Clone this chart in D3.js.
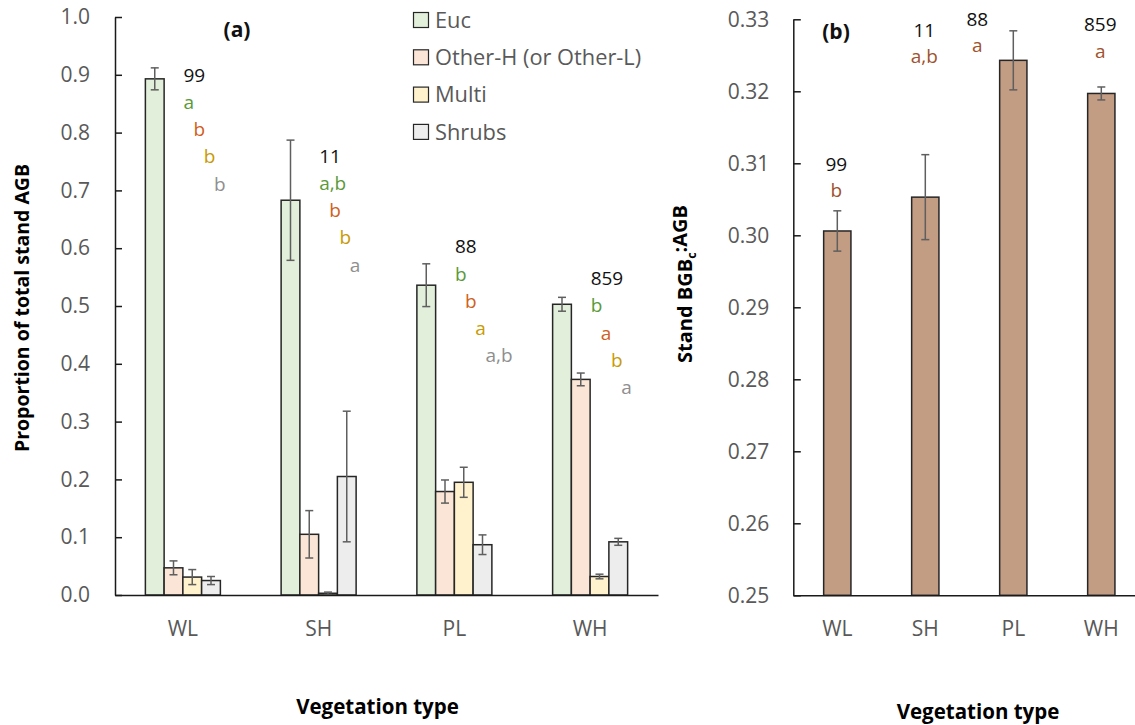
<!DOCTYPE html>
<html>
<head>
<meta charset="utf-8">
<script src="https://cdn.jsdelivr.net/npm/d3@7"></script>
<style>
  html, body { margin: 0; padding: 0; background: #fff; }
  svg { display: block; font-family: "Open Sans", "Liberation Sans", sans-serif; }
</style>
</head>
<body>
<svg id="chart" width="1135" height="725"></svg>
<script>
// ---- data -------------------------------------------------------------
const categories = ["WL", "SH", "PL", "WH"];
const seriesNames = ["Euc", "Other-H (or Other-L)", "Multi", "Shrubs"];
const plotCounts = ["99", "11", "88", "859"];

// (a) proportion of total stand AGB, mean and standard error
const eucMean   = [0.893, 0.683, 0.536, 0.503];
const eucSE     = [0.019, 0.104, 0.037, 0.012];
const otherMean = [0.047, 0.105, 0.179, 0.373];
const otherSE   = [0.012, 0.041, 0.020, 0.011];
const multiMean = [0.031, 0.003, 0.195, 0.032];
const multiSE   = [0.013, 0.002, 0.026, 0.004];
const shrubMean = [0.025, 0.205, 0.087, 0.092];
const shrubSE   = [0.007, 0.113, 0.017, 0.006];

// significance letters per component
const eucLetters   = ["a", "a,b", "b", "b"];
const otherLetters = ["b", "b", "b", "a"];
const multiLetters = ["b", "b", "a", "b"];
const shrubLetters = ["b", "a", "a,b", "a"];
// value at which each group's annotation block starts
const annotAtA = [0.888, 0.748, 0.591, 0.536];

// (b) stand BGBc:AGB ratio
const ratioMean = [0.3006, 0.3053, 0.3243, 0.3197];
const ratioSE   = [0.0028, 0.0059, 0.0041, 0.0009];
const ratioLetters = ["b", "a,b", "a", "a"];
const annotAtB = [0.3090, 0.3276, 0.3291, 0.3284];

const yTicksA = [0, 0.1, 0.2, 0.3, 0.4, 0.5, 0.6, 0.7, 0.8, 0.9, 1.0];
const yTicksB = [0.25, 0.26, 0.27, 0.28, 0.29, 0.30, 0.31, 0.32, 0.33];

// ---- styling ------------------------------------------------------------
const fills = ["#E2EFDA", "#FBE5D6", "#FFF2CC", "#EDEDED"];
const letterColors = ["#5A9A3A", "#D0601C", "#C99A06", "#8F8F8F"];
const ratioFill = "#C29C83";
const ratioLetterColor = "#A0522D";
const axisGrey = "#595959";
const barStroke = "#262626";
const errColor = "#5f5f5f";

const svg = d3.select("#chart");

const series = [
  { mean: eucMean,   se: eucSE,   letters: eucLetters },
  { mean: otherMean, se: otherSE, letters: otherLetters },
  { mean: multiMean, se: multiSE, letters: multiLetters },
  { mean: shrubMean, se: shrubSE, letters: shrubLetters }
];

function errorBar(g, cx, yTop, yBot, half) {
  g.append("line").attr("x1", cx).attr("x2", cx).attr("y1", yTop).attr("y2", yBot);
  g.append("line").attr("x1", cx - half).attr("x2", cx + half).attr("y1", yTop).attr("y2", yTop);
  g.append("line").attr("x1", cx - half).attr("x2", cx + half).attr("y1", yBot).attr("y2", yBot);
}

function styleYAxis(g) {
  g.select(".domain").attr("stroke", "#1a1a1a").attr("stroke-width", 1.5);
  g.selectAll(".tick line").attr("stroke", "#1a1a1a").attr("stroke-width", 1.5);
  g.selectAll(".tick text").attr("fill", axisGrey).style("font-size", "21px")
    .style("font-family", "'Open Sans', sans-serif");
}

function styleXAxis(g) {
  g.select(".domain").attr("stroke", "#1a1a1a").attr("stroke-width", 1.5);
  g.selectAll(".tick line").remove();
  g.selectAll(".tick text").attr("fill", axisGrey).style("font-size", "21px")
    .style("font-family", "'Open Sans', sans-serif");
}

// ---- panel (a) ------------------------------------------------------------
{
  const left = 115, right = 658, top = 17, bottom = 595;
  const y = d3.scaleLinear().domain([0, 1]).range([bottom, top]);
  const x = d3.scaleBand().domain(categories).range([left, right]).padding(0);
  const groupWidth = 75;
  const x1 = d3.scaleBand().domain(d3.range(seriesNames.length))
    .range([-groupWidth / 2, groupWidth / 2]).padding(0);

  const gA = svg.append("g");

  // bars
  series.forEach((s, si) => {
    gA.append("g").selectAll("rect").data(categories).join("rect")
      .attr("x", (c) => x(c) + x.bandwidth() / 2 + x1(si))
      .attr("y", (c, i) => y(s.mean[i]))
      .attr("width", x1.bandwidth())
      .attr("height", (c, i) => y(0) - y(s.mean[i]))
      .attr("fill", fills[si])
      .attr("stroke", barStroke)
      .attr("stroke-width", 1.5);
  });

  // error bars
  const eg = gA.append("g").attr("stroke", errColor).attr("stroke-width", 1.5);
  series.forEach((s, si) => {
    categories.forEach((c, i) => {
      const cx = x(c) + x.bandwidth() / 2 + x1(si) + x1.bandwidth() / 2;
      errorBar(eg, cx, y(s.mean[i] + s.se[i]), y(Math.max(0, s.mean[i] - s.se[i])), 4);
    });
  });

  // axes
  gA.append("g").attr("transform", `translate(${left},0)`)
    .call(d3.axisLeft(y).tickValues(yTicksA).tickFormat(d3.format(".1f"))
      .tickSizeInner(-7).tickSizeOuter(0).tickPadding(25))
    .call(styleYAxis);
  gA.append("g").attr("transform", `translate(0,${bottom})`)
    .call(d3.axisBottom(x).tickSize(0).tickPadding(26))
    .call(styleXAxis);

  // plot counts and significance letters
  const ann = gA.append("g").style("font-size", "19px");
  categories.forEach((c, i) => {
    const x0 = x(c) + x.bandwidth() / 2 + 0.5;
    const base = y(annotAtA[i]);
    ann.append("text").attr("x", x0).attr("y", base).attr("fill", "#111").text(plotCounts[i]);
    series.forEach((s, si) => {
      ann.append("text")
        .attr("x", x0 + 10.2 * si)
        .attr("y", base + 27.25 * (si + 1))
        .attr("fill", letterColors[si])
        .text(s.letters[i]);
    });
  });

  // panel tag
  gA.append("text").attr("x", 237).attr("y", 37).attr("text-anchor", "middle")
    .style("font-size", "21px").style("font-weight", "bold").attr("fill", "#111").text("(a)");

  // legend
  const lg = gA.append("g");
  seriesNames.forEach((name, si) => {
    const cy = 20 + 37.3 * si;
    lg.append("rect").attr("x", 413.5).attr("y", cy - 7.5).attr("width", 15).attr("height", 15)
      .attr("fill", fills[si]).attr("stroke", barStroke).attr("stroke-width", 1.2);
    lg.append("text").attr("x", 435).attr("y", cy).attr("dy", "0.36em")
      .style("font-size", "21.8px").attr("fill", axisGrey).text(name);
  });

  // axis titles
  gA.append("text").attr("transform", "translate(29,308) rotate(-90)")
    .attr("text-anchor", "middle").style("font-size", "19.5px").style("font-weight", "bold")
    .attr("fill", "#000").text("Proportion of total stand AGB");
  gA.append("text").attr("x", 377.5).attr("y", 714).attr("text-anchor", "middle")
    .style("font-size", "20.5px").style("font-weight", "bold").attr("fill", "#000")
    .text("Vegetation type");
}

// ---- panel (b) ------------------------------------------------------------
{
  const left = 793.3, right = 1145.3, top = 19.3, bottom = 595.3;
  const y = d3.scaleLinear().domain([0.25, 0.33]).range([bottom, top]);
  const x = d3.scaleBand().domain(categories).range([left, right]).padding(0);
  const barW = x.bandwidth() * 0.31;

  const gB = svg.append("g");

  gB.append("g").selectAll("rect").data(categories).join("rect")
    .attr("x", (c) => x(c) + x.bandwidth() / 2 - barW / 2)
    .attr("y", (c, i) => y(ratioMean[i]))
    .attr("width", barW)
    .attr("height", (c, i) => y(0.25) - y(ratioMean[i]))
    .attr("fill", ratioFill)
    .attr("stroke", barStroke)
    .attr("stroke-width", 1.5);

  const eg = gB.append("g").attr("stroke", errColor).attr("stroke-width", 1.5);
  categories.forEach((c, i) => {
    const cx = x(c) + x.bandwidth() / 2;
    errorBar(eg, cx, y(ratioMean[i] + ratioSE[i]), y(ratioMean[i] - ratioSE[i]), 4);
  });

  gB.append("g").attr("transform", `translate(${left},0)`)
    .call(d3.axisLeft(y).tickValues(yTicksB).tickFormat(d3.format(".2f"))
      .tickSizeInner(-7.5).tickSizeOuter(0).tickPadding(24))
    .call(styleYAxis);
  gB.append("g").attr("transform", `translate(0,${bottom})`)
    .call(d3.axisBottom(x).tickSize(0).tickPadding(26))
    .call(styleXAxis);

  // the PL label block sits left of its bar so it clears the error bar
  const shift = { PL: -35 };
  const ann = gB.append("g").style("font-size", "19px").attr("text-anchor", "middle");
  categories.forEach((c, i) => {
    const cx = x(c) + x.bandwidth() / 2 + (shift[c] || 0) - 1;
    const base = y(annotAtB[i]);
    ann.append("text").attr("x", cx).attr("y", base).attr("fill", "#111").text(plotCounts[i]);
    ann.append("text").attr("x", cx).attr("y", base + 26.7).attr("fill", ratioLetterColor)
      .text(ratioLetters[i]);
  });

  gB.append("text").attr("x", 836).attr("y", 39).attr("text-anchor", "middle")
    .style("font-size", "21px").style("font-weight", "bold").attr("fill", "#111").text("(b)");

  const yt = gB.append("text").attr("transform", "translate(692,284) rotate(-90)")
    .attr("text-anchor", "middle").style("font-size", "20px").style("font-weight", "bold")
    .attr("fill", "#000");
  yt.append("tspan").text("Stand BGB");
  yt.append("tspan").attr("dy", "0.3em").style("font-size", "12.5px").text("c");
  yt.append("tspan").attr("dy", "-0.45em").text(":AGB");

  gB.append("text").attr("x", 978).attr("y", 719).attr("text-anchor", "middle")
    .style("font-size", "20.5px").style("font-weight", "bold").attr("fill", "#000")
    .text("Vegetation type");
}
</script>
</body>
</html>
